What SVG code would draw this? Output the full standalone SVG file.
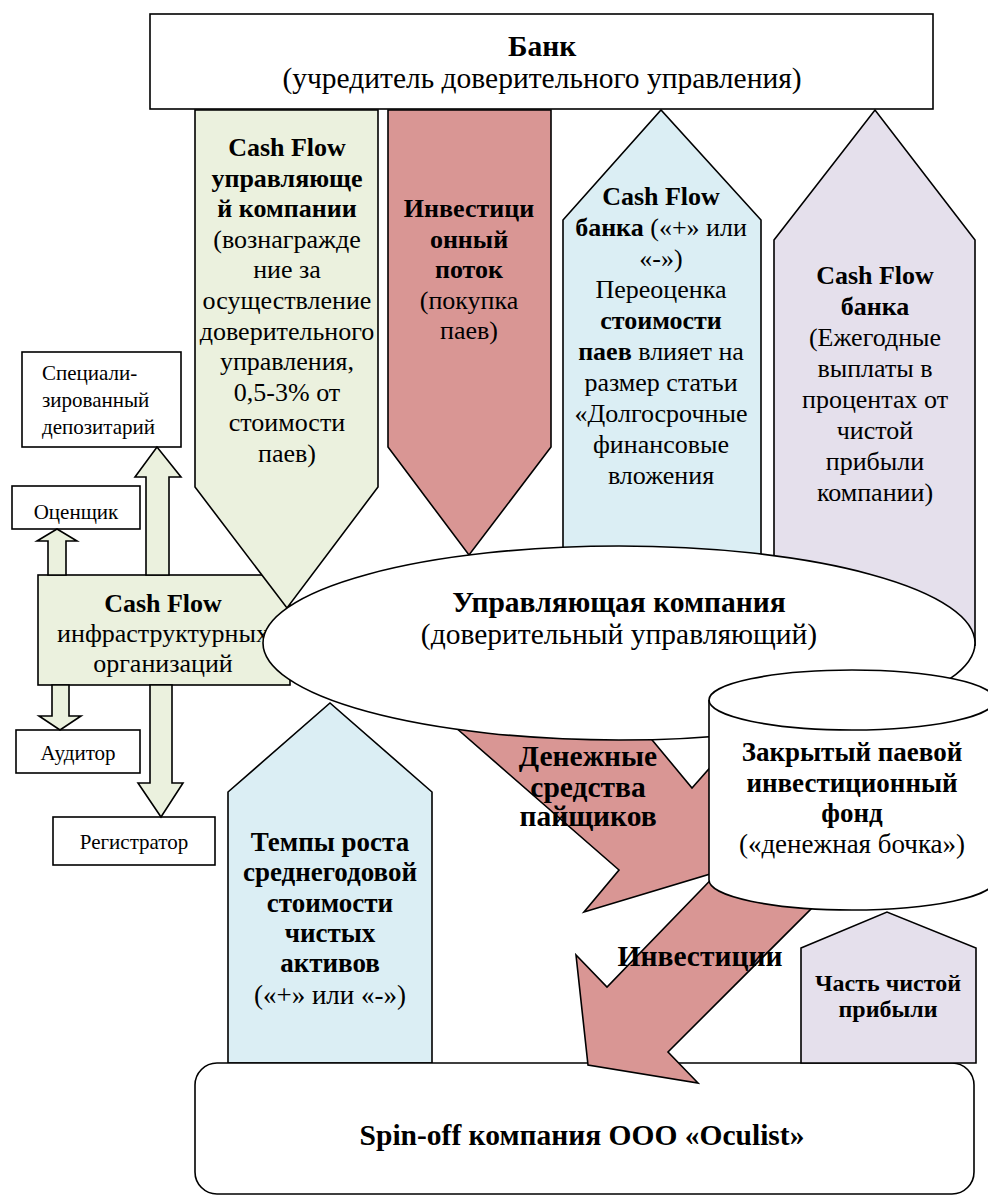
<svg xmlns="http://www.w3.org/2000/svg" width="988" height="1196" viewBox="0 0 988 1196">
<style>
.s{stroke:#000;stroke-width:1.6;stroke-linejoin:miter}
.w{fill:#fff}
.g{fill:#EBF1DE}
.r{fill:#D99694}
.bl{fill:#DBEEF4}
.p{fill:#E5E0EC}
.n{font:normal 400 26px 'Liberation Serif',serif;fill:#000}
.b{font:normal 700 26px 'Liberation Serif',serif;fill:#000}
.nl{font:normal 400 29.5px 'Liberation Serif',serif;fill:#000}
.bL{font:normal 700 29.5px 'Liberation Serif',serif;fill:#000}
.b27{font:normal 700 27px 'Liberation Serif',serif;fill:#000}
.n27{font:normal 400 27px 'Liberation Serif',serif;fill:#000}
.c{text-anchor:middle}
.sm{font:normal 400 21px 'Liberation Serif',serif;fill:#000}
.sb{font:normal 700 24px 'Liberation Serif',serif;fill:#000}
.tb{font-weight:700}
</style>
<rect width="988" height="1196" fill="#fff"/>

<g id="bank">
<rect class="s w" x="150" y="14" width="783" height="95"/>
<text class="c bL" x="542" y="56">Банк</text>
<text class="c nl" x="542" y="88">(учредитель доверительного управления)</text>
</g>

<g id="cf-infra">
<rect class="s g" x="38" y="575" width="252" height="110"/>
<text class="c b" x="163" y="612">Cash Flow</text>
<text class="c n" x="163" y="642">инфраструктурных</text>
<text class="c n" x="163" y="672">организаций</text>
</g>

<g id="cf-uk">
<polygon class="s g" points="195,110 378,110 378,487 287,608 195,487"/>
<text class="c b" x="287" y="156">Cash Flow</text>
<text class="c b" x="287" y="187">управляюще</text>
<text class="c b" x="287" y="217">й компании</text>
<text class="c n" x="287" y="248">(вознагражде</text>
<text class="c n" x="287" y="278">ние за</text>
<text class="c n" x="287" y="309">осуществление</text>
<text class="c n" x="287" y="340">доверительного</text>
<text class="c n" x="287" y="370">управления,</text>
<text class="c n" x="287" y="401">0,5-3% от</text>
<text class="c n" x="287" y="431">стоимости</text>
<text class="c n" x="287" y="462">паев)</text>
</g>

<g id="invest-flow">
<polygon class="s r" points="388,110 551,110 551,447 469,555 388,447"/>
<text class="c b" x="469" y="217">Инвестици</text>
<text class="c b" x="469" y="248">онный</text>
<text class="c b" x="469" y="278">поток</text>
<text class="c n" x="469" y="309">(покупка</text>
<text class="c n" x="469" y="339">паев)</text>
</g>

<g id="cf-bank-1">
<polygon class="s bl" points="563,220 661,110 761,220 761,600 563,600"/>
<text class="c b" x="661" y="205">Cash Flow</text>
<text class="c n" x="661" y="236"><tspan class="tb">банка</tspan> («+» или</text>
<text class="c n" x="661" y="267">«-»)</text>
<text class="c n" x="661" y="298">Переоценка</text>
<text class="c b" x="661" y="329">стоимости</text>
<text class="c n" x="661" y="360"><tspan class="tb">паев</tspan> влияет на</text>
<text class="c n" x="661" y="391">размер статьи</text>
<text class="c n" x="661" y="422">«Долгосрочные</text>
<text class="c n" x="661" y="453">финансовые</text>
<text class="c n" x="661" y="484">вложения</text>
</g>

<g id="cf-bank-2">
<polygon class="s p" points="774,240 875,110 975,240 975,645 774,620"/>
<text class="c b" x="875" y="284">Cash Flow</text>
<text class="c b" x="875" y="315">банка</text>
<text class="c n" x="875" y="346">(Ежегодные</text>
<text class="c n" x="875" y="377">выплаты в</text>
<text class="c n" x="875" y="408">процентах от</text>
<text class="c n" x="875" y="439">чистой</text>
<text class="c n" x="875" y="470">прибыли</text>
<text class="c n" x="875" y="501">компании)</text>
</g>

<g id="depositary">
<rect class="s w" x="22" y="352" width="159" height="95"/>
<text class="sm" x="42" y="380">Специали-</text>
<text class="sm" x="42" y="407">зированный</text>
<text class="sm" x="42" y="434">депозитарий</text>
</g>

<g id="appraiser">
<rect class="s w" x="12" y="486" width="128" height="43"/>
<text class="c sm" x="76" y="519">Оценщик</text>
</g>

<g id="auditor">
<rect class="s w" x="16" y="730" width="124" height="43"/>
<text class="c sm" x="78" y="760">Аудитор</text>
</g>

<g id="registrar">
<rect class="s w" x="53" y="817" width="162" height="48"/>
<text class="c sm" x="134" y="849">Регистратор</text>
</g>

<g id="nav-growth">
<polygon class="s bl" points="228,792 330,703 432,792 432,1063 228,1063"/>
<text class="c b27" x="330" y="851">Темпы роста</text>
<text class="c b27" x="330" y="881">среднегодовой</text>
<text class="c b27" x="330" y="912">стоимости</text>
<text class="c b27" x="330" y="942">чистых</text>
<text class="c b27" x="330" y="972">активов</text>
<text class="c n27" x="330" y="1004">(«+» или «-»)</text>
</g>

<g id="spinoff">
<rect class="s w" x="195" y="1063" width="779" height="131" rx="22" ry="22"/>
<text class="c bL" x="582" y="1145">Spin-off компания ООО «Oculist»</text>
</g>

<g id="connectors">
<polygon class="s g" points="146,575 146,477 135,477 157,447 181,477 169,477 169,575"/>
<polygon class="s g" points="48,575 48,541 37,541 57,529 77,541 66,541 66,575"/>
<polygon class="s g" points="52,685 52,716 39,716 60,730 81,716 69,716 69,685"/>
<polygon class="s g" points="150,685 150,783 138,783 161,817 183,783 172,783 172,685"/>
<polygon class="s r" points="455,727 619,870 584,912 730,868 760,820 730,745 692,788 648,735"/>
<polygon class="s r" points="730,860 607,987 576,955 588,1065 698,1083 668,1052 840,880"/>
</g>

<g id="uk">
<ellipse class="s w" cx="619" cy="643" rx="356" ry="97"/>
<text class="c bL" x="619" y="612">Управляющая компания</text>
<text class="c nl" x="619" y="644">(доверительный управляющий)</text>
</g>

<g id="zpif">
<path class="s w" d="M709,700 L709,880 A143,30 0 0 0 995,880 L995,700 A143,30 0 0 0 709,700 Z"/>
<path class="s" fill="none" d="M709,700 A143,30 0 0 0 995,700"/>
<text class="c b27" x="852" y="761">Закрытый паевой</text>
<text class="c b27" x="852" y="792">инвестиционный</text>
<text class="c b27" x="852" y="822">фонд</text>
<text class="c n27" x="852" y="853">(«денежная бочка»)</text>
</g>

<g id="profit-part">
<polygon class="s p" points="801,948 887,912 976,948 976,1063 801,1063"/>
<text class="c sb" x="888" y="991">Часть чистой</text>
<text class="c sb" x="888" y="1017">прибыли</text>
</g>

<g id="flow-labels">
<text class="c bL" x="588" y="766">Денежные</text>
<text class="c bL" x="588" y="797">средства</text>
<text class="c bL" x="588" y="826">пайщиков</text>
<text class="c bL" x="700" y="966">Инвестиции</text>
</g>
</svg>
